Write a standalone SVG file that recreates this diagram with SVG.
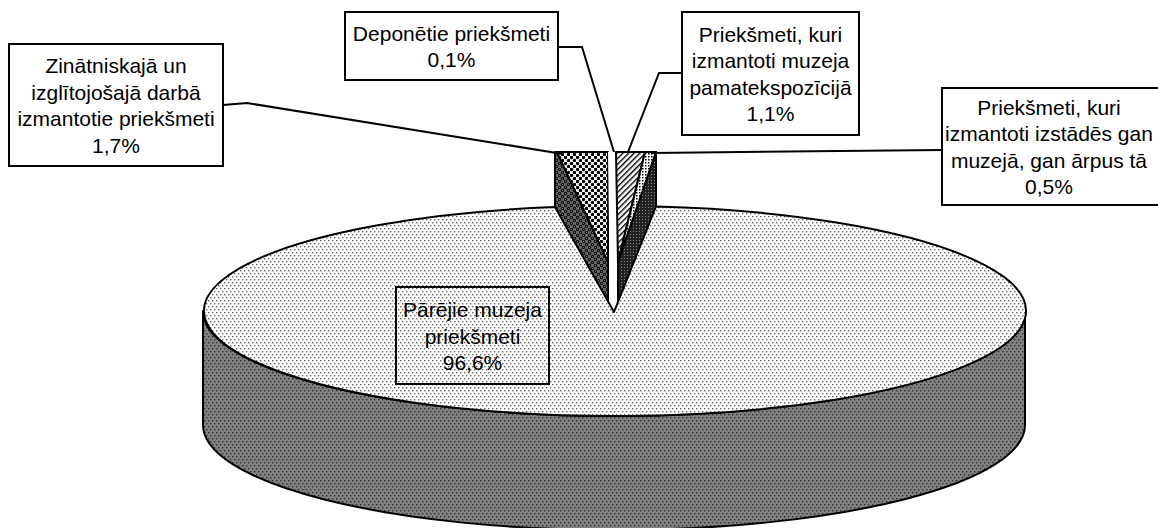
<svg xmlns="http://www.w3.org/2000/svg" width="1158" height="528" viewBox="0 0 1158 528">
<style>
.box{fill:#fff;stroke:#000;stroke-width:2}
.boxT{fill:none;stroke:#000;stroke-width:2}
.lbl{font-family:"Liberation Sans",Arial,sans-serif;font-size:21px;text-anchor:middle;fill:#000}
.conn{fill:none;stroke:#000;stroke-width:2}
.edge{stroke:#000;stroke-width:2;stroke-linejoin:round}
</style>
<defs>
<pattern id="pTop" width="4" height="6" patternUnits="userSpaceOnUse">
<rect width="4" height="6" fill="#fff"/>
<rect x="0" y="0" width="1.4" height="1.4" fill="#666"/>
<rect x="2" y="3" width="1.4" height="1.4" fill="#666"/>
</pattern>
<pattern id="pSide" width="4" height="6" patternUnits="userSpaceOnUse">
<rect width="4" height="6" fill="#808080"/>
<rect x="0" y="0" width="1.4" height="1.4" fill="#333"/>
<rect x="2" y="3" width="1.4" height="1.4" fill="#333"/>
</pattern>
<pattern id="pSphL" width="6" height="6" patternUnits="userSpaceOnUse">
<rect width="6" height="6" fill="#fff"/>
<circle cx="1.5" cy="1.5" r="1.7" fill="#000"/>
<circle cx="4.5" cy="4.5" r="1.7" fill="#000"/>
</pattern>
<pattern id="pSphD" width="6" height="6" patternUnits="userSpaceOnUse">
<rect width="6" height="6" fill="#6a6a6a"/>
<circle cx="1.5" cy="1.5" r="1.7" fill="#111"/>
<circle cx="4.5" cy="4.5" r="1.7" fill="#111"/>
<rect x="1" y="1" width="0.8" height="0.8" fill="#aaa"/>
<rect x="4" y="4" width="0.8" height="0.8" fill="#aaa"/>
</pattern>
<pattern id="pHatch" width="4" height="4" patternUnits="userSpaceOnUse" patternTransform="rotate(45)">
<rect width="4" height="4" fill="#fff"/>
<rect x="0" y="0" width="1.4" height="4" fill="#000"/>
</pattern>
<pattern id="pDense" width="3" height="3" patternUnits="userSpaceOnUse">
<rect width="3" height="3" fill="#fff"/>
<rect x="0" y="0" width="1.5" height="1.5" fill="#000"/>
</pattern>
<pattern id="pDenseD" width="3" height="3" patternUnits="userSpaceOnUse">
<rect width="3" height="3" fill="#222"/>
<rect x="0" y="0" width="1" height="1" fill="#888"/>
</pattern>
</defs>

<g id="node-zinatniskaja">
<polygon class="edge" fill="url(#pSphD)" points="555,152 557,152 608,262 608,372 555,264"/>
<polygon class="edge" fill="url(#pSphL)" points="557,152 608,152 608,262"/>
<rect class="box" x="9" y="44" width="214" height="122"/>
<text class="lbl" x="116" y="73">Zinātniskajā un</text>
<text class="lbl" x="116" y="99.5">izglītojošajā darbā</text>
<text class="lbl" x="116" y="126">izmantotie priekšmeti</text>
<text class="lbl" x="116" y="152.5">1,7%</text>
</g>

<g id="node-deponetie">
<polygon fill="#fff" points="608,152 616,152 618,300 610,300"/>
<rect class="box" x="345" y="12" width="213" height="68"/>
<text class="lbl" x="451.5" y="40.5">Deponētie priekšmeti</text>
<text class="lbl" x="451.5" y="67">0,1%</text>
</g>

<g id="node-pamatekspozicija">
<polygon class="edge" fill="url(#pHatch)" points="616,152 645,152 618,262"/>
<rect class="box" x="682" y="12" width="177" height="123"/>
<text class="lbl" x="770.5" y="41.5">Priekšmeti, kuri</text>
<text class="lbl" x="770.5" y="68">izmantoti muzeja</text>
<text class="lbl" x="770.5" y="94.5">pamatekspozīcijā</text>
<text class="lbl" x="770.5" y="121">1,1%</text>
</g>

<g id="node-izstades">
<polygon class="edge" fill="url(#pDenseD)" points="656,152 618,262 618,372 656,262"/>
<polygon class="edge" fill="url(#pDense)" points="645,152 656,152 618,262"/>
<rect class="box" x="942" y="88" width="218" height="117"/>
<text class="lbl" x="1049" y="114.5">Priekšmeti, kuri</text>
<text class="lbl" x="1049" y="141">izmantoti izstādēs gan</text>
<text class="lbl" x="1049" y="167.5">muzejā, gan ārpus tā</text>
<text class="lbl" x="1049" y="194">0,5%</text>
</g>

<g id="node-parejie">
<path class="edge" fill="url(#pSide)" d="M203,311 L203,425 A411,105 0 0 0 1025,425 L1025,311 A411,105 0 0 1 203,311 Z"/>
<path class="edge" fill="url(#pTop)" d="M614,312 L555,207.1 A411,105 0 1 0 656,206.5 Z"/>
<rect class="boxT" x="396" y="287" width="153" height="97"/>
<text class="lbl" x="472.5" y="317">Pārējie muzeja</text>
<text class="lbl" x="472.5" y="343.5">priekšmeti</text>
<text class="lbl" x="472.5" y="370">96,6%</text>
</g>

<g id="connectors">
<polyline class="conn" points="223,105 247,103 563,154"/>
<polyline class="conn" points="558,47 582,47 614,152"/>
<polyline class="conn" points="682,73 659,73 628,152"/>
<polyline class="conn" points="942,150 652,153"/>
</g>
</svg>
